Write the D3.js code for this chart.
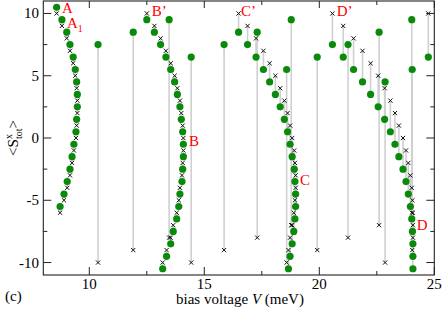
<!DOCTYPE html>
<html><head><meta charset="utf-8">
<script src="https://cdn.jsdelivr.net/npm/d3@7"></script>
<style>
html,body{margin:0;padding:0;background:#fff;}
svg{display:block;}
text{font-family:"Liberation Serif","DejaVu Serif",serif;}
</style></head>
<body><svg id="c" width="443" height="309"></svg>
<script>
// each entry: [bias voltage V, green <S> value, cross <S> value]
const branchA = [[8.58,10.5,10],[8.81,9.5,9],[9.02,8.5,8],[9.16,7.5,7],[9.30,6.5,6],[9.39,5.5,5],[9.45,4.5,4],[9.48,3.5,3],[9.48,2.5,2],[9.45,1.5,1],[9.42,0.5,0],[9.33,-0.5,-1],[9.25,-1.5,-2],[9.16,-2.5,-3],[9.04,-3.5,-4],[8.90,-4.5,-5],[8.73,-5.5,-6]];
const branchB = [[12.50,9.5,10],[12.83,8.5,9],[13.10,7.5,8],[13.33,6.5,7],[13.54,5.5,6],[13.71,4.5,5],[13.83,3.5,4],[13.94,2.5,3],[14.00,1.5,2],[14.06,0.5,1],[14.09,-0.5,0],[14.09,-1.5,-1],[14.06,-2.5,-2],[14.03,-3.5,-3],[13.94,-4.5,-4],[13.89,-5.5,-5],[13.80,-6.5,-6],[13.65,-7.5,-7],[13.54,-8.5,-8],[13.36,-9.5,-9],[13.19,-10.5,-10]];
const branchC = [[16.49,8.5,10],[16.88,7.5,9],[17.25,6.5,8],[17.57,5.5,7],[17.84,4.5,6],[18.09,3.5,5],[18.30,2.5,4],[18.48,1.5,3],[18.62,0.5,2],[18.73,-0.5,1],[18.82,-1.5,0],[18.91,-2.5,-1],[18.94,-3.5,-2],[18.97,-4.5,-3],[18.97,-5.5,-4],[18.94,-6.5,-5],[18.89,-7.5,-6],[18.82,-8.5,-7],[18.73,-9.5,-8],[18.66,-10.5,-9]];
const branchD = [[20.57,7.5,10],[21.04,6.5,9],[21.49,5.5,8],[21.88,4.5,7],[22.23,3.5,6],[22.56,2.5,5],[22.84,1.5,4],[23.09,0.5,3],[23.29,-0.5,2],[23.46,-1.5,1],[23.64,-2.5,0],[23.77,-3.5,-1],[23.87,-4.5,-2],[23.96,-5.5,-3],[24.02,-6.5,-4],[24.05,-7.5,-5],[24.07,-8.5,-6],[24.07,-9.5,-7],[24.07,-10.5,-8]];
const jumps = [[10.38,7.5,-10],[11.91,8.5,-9],[13.47,9.5,-8],[14.43,6.5,-10],[15.86,7.5,-9],[17.30,8.5,-8],[18.78,9.5,-7],[18.58,5.5,-10],[19.91,6.5,-9],[21.25,7.5,-8],[22.60,8.5,-7],[22.86,4.5,-10],[24.02,9.5,-6],[24.04,5.5,-9],[24.74,6.5,10]];
const xTicks = [10,15,20,25];
const yTicks = [-10,-5,0,5,10];
const labels = [["A",8.81,10.0,""],["A",9.03,8.85,"1"],["B\u2019",12.71,9.8,""],["B",14.33,-0.65,""],["C\u2019",16.6,9.8,""],["C",19.16,-3.8,""],["D\u2019",20.76,9.8,""],["D",24.24,-7.4,""]];

const svg = d3.select("#c");
const L=43.3,R=434.3,T=1,B=275;
const x = d3.scaleLinear().domain([8,25]).range([L,R]);
const y = d3.scaleLinear().domain([-11,11]).range([B,T]);
const all = branchA.concat(branchB,branchC,branchD,jumps);

// gray connecting lines
svg.append("g").selectAll("line").data(all).join("line")
  .attr("x1",d=>x(d[0])).attr("x2",d=>x(d[0]))
  .attr("y1",d=>y(d[1])).attr("y2",d=>y(d[2]))
  .attr("stroke","#d0d0d0").attr("stroke-width",1.6);

// green dots
svg.append("g").selectAll("circle").data(all).join("circle")
  .attr("cx",d=>x(d[0])).attr("cy",d=>y(d[1])).attr("r",3.6)
  .attr("fill","#0a8a0a");

// crosses
const cs=2.1;
svg.append("g").selectAll("path").data(all).join("path")
  .attr("d",d=>{const cx=x(d[0]),cy=y(d[2]);return `M${cx-cs},${cy-cs}L${cx+cs},${cy+cs}M${cx-cs},${cy+cs}L${cx+cs},${cy-cs}`;})
  .attr("stroke","#111").attr("stroke-width",1).attr("fill","none");

// axes with inward ticks, mirrored
const minorX = d3.range(8,25.01,0.5).filter(v=>Math.abs(v/2.5-Math.round(v/2.5))<1e-6 && xTicks.indexOf(v)<0);
const minorY = d3.range(-11,11.01,0.5).filter(v=>Math.abs(v/2.5-Math.round(v/2.5))<1e-6 && yTicks.indexOf(v)<0);
const ax = svg.append("g");
function tick(x1,y1,x2,y2){ax.append("line").attr("x1",x1).attr("y1",y1).attr("x2",x2).attr("y2",y2).attr("stroke","#222").attr("stroke-width",1);}
xTicks.forEach(v=>{tick(x(v),B,x(v),B-8);tick(x(v),T,x(v),T+7);});
minorX.forEach(v=>{tick(x(v),B,x(v),B-4);tick(x(v),T,x(v),T+4);});
yTicks.forEach(v=>{tick(L,y(v),L+8,y(v));tick(R,y(v),R-8,y(v));});
minorY.forEach(v=>{tick(L,y(v),L+4,y(v));tick(R,y(v),R-4,y(v));});
ax.append("rect").attr("x",L).attr("y",T).attr("width",R-L).attr("height",B-T)
  .attr("fill","none").attr("stroke","#222").attr("stroke-width",1.1);

svg.append("g").selectAll("text").data(xTicks).join("text")
  .attr("x",d=>x(d)).attr("y",289).attr("text-anchor","middle")
  .attr("font-size",15).text(d=>d);
svg.append("g").selectAll("text").data(yTicks).join("text")
  .attr("x",39).attr("y",d=>y(d)+5).attr("text-anchor","end")
  .attr("font-size",15).text(d=>d);

// x label
const xl = svg.append("text").attr("x",240).attr("y",304).attr("text-anchor","middle").attr("font-size",15);
xl.append("tspan").text("bias voltage ");
xl.append("tspan").attr("font-style","italic").text("V");
xl.append("tspan").text(" (meV)");

// y label
const yl = svg.append("text").attr("transform","translate(18,138) rotate(-90)").attr("text-anchor","middle").attr("font-size",15);
yl.append("tspan").text("<S");
yl.append("tspan").attr("font-size",10).attr("dy",-6).text("x");
yl.append("tspan").attr("font-size",10).attr("dx",-5).attr("dy",10).text("tot");
yl.append("tspan").attr("dy",-4).text(">");

svg.append("text").attr("x",5).attr("y",301).attr("font-size",15).text("(c)");

// point labels
const lg = svg.append("g");
labels.forEach(l=>{
  const t = lg.append("text").attr("x",x(l[1])).attr("y",y(l[2])).attr("fill","#ff0000").attr("font-size",15).text(l[0]);
  if(l[3]) t.append("tspan").attr("font-size",10).attr("dy",4).text(l[3]);
});
</script></body></html>
